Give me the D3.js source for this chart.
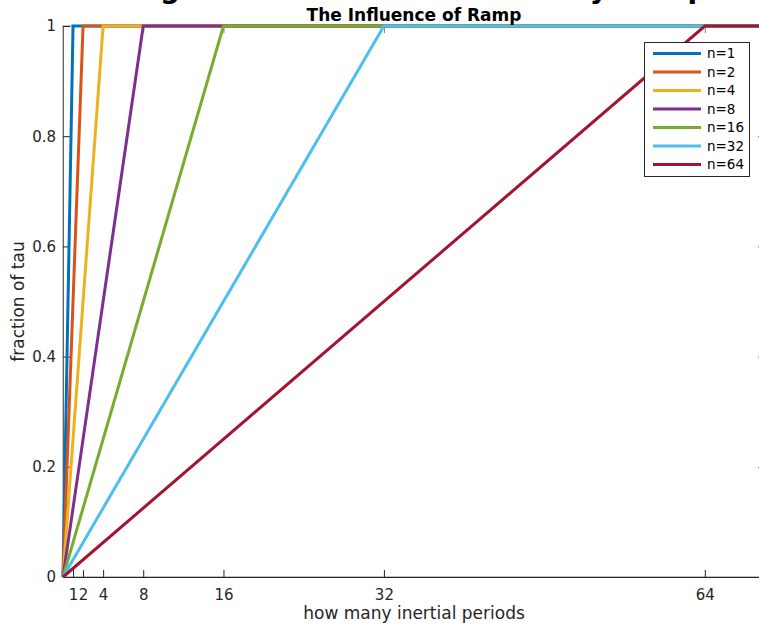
<!DOCTYPE html>
<html>
<head>
<meta charset="utf-8">
<script src="https://cdn.jsdelivr.net/npm/d3@7"></script>
<style>
  html, body { margin: 0; padding: 0; background: #fff; }
  svg { display: block; font-family: "DejaVu Sans", sans-serif; }
</style>
</head>
<body>
<svg id="chart" width="759" height="625"></svg>
<script>
// Ramp lengths (in inertial periods) for each curve
const rampPeriods = [1, 2, 4, 8, 16, 32, 64];
const seriesNames = ["n=1", "n=2", "n=4", "n=8", "n=16", "n=32", "n=64"];
const seriesColors = ["#0072BD", "#D95319", "#EDB120", "#7E2F8E", "#77AC30", "#4DBEEE", "#A2142F"];
// Time span of the run and the forcing fraction at start / after the ramp
const tMax = 70;
const tauStart = 0;
const tauFull = 1;
const xTicks = [1, 2, 4, 8, 16, 32, 64];
const yTicks = [0, 0.2, 0.4, 0.6, 0.8, 1];

(function () {
  const svg = d3.select("#chart");
  const ink = "#262626";

  const plotL = 63, plotR = 765, plotT = 26, plotB = 577;
  const x = d3.scaleLinear().domain([0, tMax]).range([plotL, plotR]);
  const y = d3.scaleLinear().domain([0, 1]).range([plotB, plotT]);

  // Axes box
  svg.append("rect")
    .attr("x", plotL).attr("y", plotT)
    .attr("width", plotR - plotL).attr("height", plotB - plotT)
    .attr("fill", "none").attr("stroke", ink).attr("stroke-width", 1)
    .attr("stroke-opacity", 0.55);

  // Bottom and left axes (ticks point inward)
  const xAxis = d3.axisBottom(x).tickValues(xTicks).tickSizeInner(-7).tickSizeOuter(0)
    .tickPadding(12).tickFormat(d3.format("d"));
  const gx = svg.append("g").attr("transform", `translate(0,${plotB})`).call(xAxis);
  gx.select(".domain").attr("stroke", ink);
  gx.selectAll(".tick line").attr("stroke", ink);
  gx.selectAll(".tick text").attr("fill", ink).attr("font-size", 15)
    .attr("font-family", "DejaVu Sans");

  const yAxis = d3.axisLeft(y).tickValues(yTicks).tickSizeInner(-7).tickSizeOuter(0)
    .tickPadding(7).tickFormat(d => d === 0 || d === 1 ? d3.format("d")(d) : d3.format(".1f")(d));
  const gy = svg.append("g").attr("transform", `translate(${plotL},0)`).call(yAxis);
  gy.select(".domain").attr("stroke", ink).attr("stroke-opacity", 0.6);
  gy.selectAll(".tick line").attr("stroke", ink);
  gy.selectAll(".tick text").attr("fill", ink).attr("font-size", 15)
    .attr("font-family", "DejaVu Sans");

  // Mirrored ticks on top and right edges
  svg.append("g").attr("transform", `translate(0,${plotT})`)
    .call(d3.axisTop(x).tickValues(xTicks).tickSizeInner(-7).tickSizeOuter(0).tickFormat(""))
    .call(g => g.select(".domain").remove())
    .call(g => g.selectAll(".tick line").attr("stroke", ink).attr("stroke-opacity", 0.6));
  svg.append("g").attr("transform", `translate(${plotR},0)`)
    .call(d3.axisRight(y).tickValues(yTicks).tickSizeInner(-7).tickSizeOuter(0).tickFormat(""))
    .call(g => g.select(".domain").remove())
    .call(g => g.selectAll(".tick line").attr("stroke", ink).attr("stroke-opacity", 0.6));

  // Ramp curves: linear rise over n periods, then constant forcing
  const line = d3.line().x(d => x(d[0])).y(d => y(d[1]));
  rampPeriods.forEach((n, i) => {
    const pts = [[0, tauStart], [n, tauFull], [tMax, tauFull]];
    svg.append("path")
      .datum(pts)
      .attr("d", line)
      .attr("fill", "none")
      .attr("stroke", seriesColors[i])
      .attr("stroke-width", 3)
      .attr("stroke-linejoin", "miter");
  });

  // Axis labels
  svg.append("text")
    .attr("x", (plotL + plotR) / 2).attr("y", 619)
    .attr("text-anchor", "middle").attr("font-size", 17).attr("fill", ink)
    .text("how many inertial periods");
  svg.append("text")
    .attr("transform", `translate(24,${(plotT + plotB) / 2}) rotate(-90)`)
    .attr("text-anchor", "middle").attr("font-size", 17).attr("fill", ink)
    .text("fraction of tau");

  // Titles
  svg.append("text")
    .attr("x", 103).attr("y", -2)
    .attr("font-size", 28).attr("font-weight", "bold").attr("fill", "#000")
    .text("Long Inertial Oscillations Set by Ramp");
  svg.append("text")
    .attr("x", (plotL + plotR) / 2).attr("y", 21)
    .attr("text-anchor", "middle").attr("font-size", 17).attr("font-weight", "bold").attr("fill", "#000")
    .text("The Influence of Ramp");

  // Legend
  const lg = svg.append("g").attr("transform", "translate(644,42)");
  lg.append("rect")
    .attr("x", 0.5).attr("y", 0.5).attr("width", 105).attr("height", 134)
    .attr("fill", "#fff").attr("stroke", ink).attr("stroke-width", 1);
  seriesNames.forEach((name, i) => {
    const ry = 11.5 + i * 18.5;
    lg.append("line")
      .attr("x1", 9).attr("x2", 57).attr("y1", ry).attr("y2", ry)
      .attr("stroke", seriesColors[i]).attr("stroke-width", 3);
    lg.append("text")
      .attr("x", 63).attr("y", ry).attr("dy", "0.36em")
      .attr("font-size", 13.5).attr("fill", "#000")
      .text(name);
  });
})();
</script>
</body>
</html>
